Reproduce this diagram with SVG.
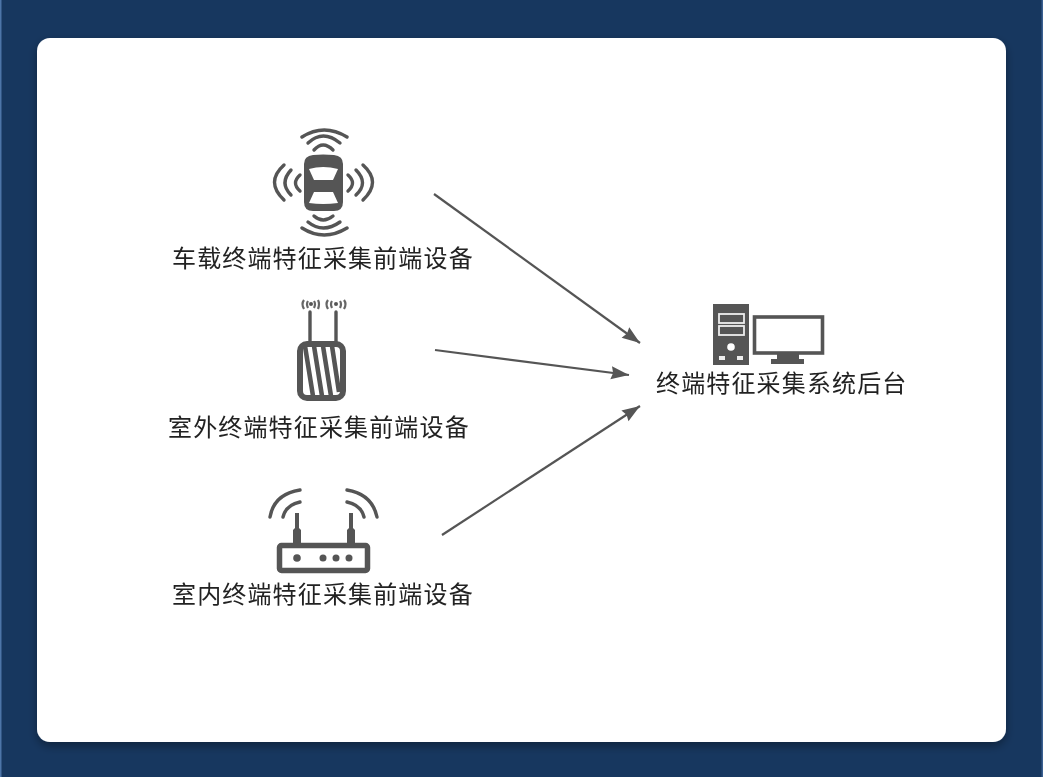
<svg xmlns="http://www.w3.org/2000/svg" width="1043" height="777" viewBox="0 0 1043 777">
<defs>
<filter id="soft" x="-10%" y="-10%" width="120%" height="120%"><feGaussianBlur stdDeviation="0.6"/></filter>
<filter id="softT" x="-5%" y="-20%" width="110%" height="140%"><feGaussianBlur stdDeviation="0.3"/></filter>
<filter id="shadow" x="-5%" y="-5%" width="110%" height="110%"><feDropShadow dx="0" dy="4" stdDeviation="5" flood-color="#000" flood-opacity="0.35"/></filter>
<marker id="arrow" markerUnits="userSpaceOnUse" markerWidth="22" markerHeight="18" refX="19" refY="9" orient="auto"><path d="M1 2.500 L19 9 L1 15.500 L3 9 Z" fill="#555"/></marker>
</defs>
<style>
.lbl{font-family:"Noto Sans CJK SC","Noto Sans",sans-serif;font-size:24px;letter-spacing:1.15px;fill:#222;filter:url(#softT)}
.w{fill:none;stroke:#555;stroke-linecap:round;stroke-width:3.400}
.f{fill:#555}
.conn{fill:none;stroke:#555;stroke-width:2.200;marker-end:url(#arrow)}
</style>
<rect width="1043" height="777" fill="#17375f"/>
<rect x="0" y="0" width="1.500" height="777" fill="#4d75a8"/>
<rect x="1041.500" y="0" width="1.500" height="777" fill="#3a5f90"/>
<rect id="card" x="37" y="38" width="969" height="704" rx="13" fill="#fff" filter="url(#shadow)"/>

<g id="connectors" filter="url(#softT)">
<line class="conn" x1="434" y1="194" x2="640" y2="343"/>
<line class="conn" x1="435" y1="350" x2="629" y2="375"/>
<line class="conn" x1="442" y1="535" x2="640" y2="406"/>
</g>

<g id="node-car">
<g filter="url(#soft)">
<path class="f" d="M304 164 Q304 156 313 155 Q323 154 334 155 Q343 156 343 164 L343 202 Q343 211 334 211 L313 211 Q304 211 304 202 Z"/>
<path fill="#fff" d="M309 169 Q323 165 338 169 L333 180 L314 180 Z"/>
<path fill="#fff" d="M314 192 L333 192 L338 203 Q323 205 309 203 Z"/>
<path class="w" d="M302 137 Q324 123 347 137"/>
<path class="w" d="M308 143 Q323 129 340 143"/>
<path class="w" d="M314 150 Q323 140 333 150"/>
<path class="w" d="M302 228 Q324 242 347 228"/>
<path class="w" d="M308 222 Q323 234 340 222"/>
<path class="w" d="M314 216 Q323 224 333 216"/>
<path class="w" d="M284 165 Q265 182 284 200"/>
<path class="w" d="M291 170 Q279 183 291 195"/>
<path class="w" d="M300 175 Q291 183 300 191"/>
<path class="w" d="M363 165 Q382 182 363 200"/>
<path class="w" d="M356 170 Q369 183 356 195"/>
<path class="w" d="M348 175 Q357 183 348 191"/>
</g>
<text class="lbl" x="172" y="267">车载终端特征采集前端设备</text>
</g>

<g id="node-outdoor">
<g filter="url(#soft)">
<line class="w" x1="310" y1="312" x2="310" y2="343"/>
<line class="w" x1="336" y1="312" x2="336" y2="343"/>
<rect x="300" y="344" width="43" height="54" rx="7" fill="#fff" stroke="#555" stroke-width="6"/>
<path fill="none" stroke="#555" stroke-width="4.600" d="M305 346 L313 396 M314 346 L322 396 M323 346 L331 396 M332 346 L339 392"/>
<g fill="none" stroke="#666" stroke-width="2.200">
<path d="M304 300 Q301 304 304 309 M308 301 Q306 304 308 308 M314 301 Q316 304 314 308 M318 300 Q320 304 318 309"/>
<path d="M328 300 Q325 304 328 309 M332 301 Q330 304 332 308 M340 301 Q342 304 340 308 M344 300 Q347 304 344 309"/>
</g>
<circle class="f" cx="311" cy="304" r="2"/>
<circle class="f" cx="336" cy="304" r="2"/>
</g>
<text class="lbl" x="168" y="436">室外终端特征采集前端设备</text>
</g>

<g id="node-indoor">
<g filter="url(#soft)">
<rect x="279.500" y="545.500" width="88" height="25" rx="2" fill="#fff" stroke="#555" stroke-width="5.500"/>
<path class="f" d="M293 545 L293 530 L295 528 L295 513 L299 513 L299 528 L301 530 L301 545 Z"/>
<path class="f" d="M347 545 L347 530 L349 528 L349 513 L353 513 L353 528 L355 530 L355 545 Z"/>
<circle class="f" cx="297" cy="558" r="3.800"/>
<circle class="f" cx="323" cy="558" r="3.500"/>
<circle class="f" cx="336" cy="558" r="3.500"/>
<circle class="f" cx="349" cy="558" r="3.500"/>
<path class="w" d="M270 517 Q274 494 300 490"/>
<path class="w" d="M283 517 Q286 505 300 502"/>
<path class="w" d="M377 517 Q372 494 347 490"/>
<path class="w" d="M364 517 Q361 505 347 502"/>
</g>
<text class="lbl" x="172" y="603">室内终端特征采集前端设备</text>
</g>

<g id="node-backend">
<g filter="url(#soft)">
<rect x="713" y="304" width="36" height="61" class="f"/>
<rect x="719" y="314" width="25" height="9" fill="#555" stroke="#eee" stroke-width="1.800"/>
<rect x="719" y="326" width="25" height="9" fill="#555" stroke="#eee" stroke-width="1.800"/>
<circle cx="731" cy="347" r="3.800" fill="#fff"/>
<rect x="719" y="356" width="6" height="4" fill="#eee"/>
<rect x="737" y="356" width="6" height="4" fill="#eee"/>
<rect x="754.500" y="317" width="68" height="36" fill="#fff" stroke="#555" stroke-width="3.600"/>
<rect x="777" y="354" width="22" height="5" class="f"/>
<rect x="771" y="359" width="33" height="5" class="f"/>
</g>
<text class="lbl" x="656" y="392">终端特征采集系统后台</text>
</g>
</svg>
